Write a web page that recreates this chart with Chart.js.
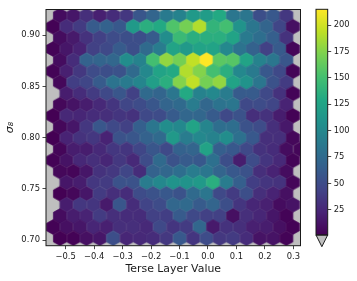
<!DOCTYPE html>
<html>
<head>
<meta charset="utf-8">
<script src="https://cdn.jsdelivr.net/npm/chart.js@4/dist/chart.umd.min.js"></script>
<style>
    html, body { margin: 0; padding: 0; background: #fff; }
    #wrap { position: relative; width: 357px; height: 281px; overflow: hidden; }
    canvas { position: absolute; top: 0; filter: blur(0.3px); }
    #hexChart { left: 0; }
    #barChart { left: 303px; }
</style>
</head>
<body>
<div id="wrap">
    <canvas id="hexChart" width="357" height="281"></canvas>
    <canvas id="barChart" width="54" height="281"></canvas>
</div>
<script>
// bin centres on the two alternating hex rows
const xLong = [-0.544, -0.497, -0.450, -0.403, -0.356, -0.310, -0.263, -0.216, -0.169, -0.122, -0.076, -0.029, 0.018, 0.065, 0.112, 0.158, 0.205, 0.252, 0.298];
const xShort = [-0.567, -0.520, -0.473, -0.427, -0.380, -0.333, -0.286, -0.239, -0.193, -0.146, -0.099, -0.052, -0.005, 0.041, 0.088, 0.135, 0.182, 0.229, 0.275, 0.324];
const yRows = [0.9190, 0.9082, 0.8973, 0.8865, 0.8756, 0.8648, 0.8539, 0.8431, 0.8322, 0.8214, 0.8105, 0.7997, 0.7888, 0.7780, 0.7671, 0.7563, 0.7454, 0.7346, 0.7237, 0.7129, 0.7020];

// counts per row, top to bottom. short rows have 20 slots, long rows 19, null = empty bin
const row01 = [null, 8, 14, 30, 20, 28, 35, 58, 70, 88, 95, 115, 118, 130, 85, 85, 52, 60, 35, null];
const row02 = [2, 28, 38, 62, 68, 60, 115, 135, 130, 155, 170, 190, 140, 150, 110, 85, 70, 45, 10];
const row03 = [null, 8, 16, 32, 42, 50, 52, 52, 62, 105, 145, 135, 135, 135, 125, 88, 78, 65, 32, null];
const row04 = [3, 14, 22, 42, 48, 62, 52, 75, 90, 125, 115, 125, 125, 100, 82, 68, 42, 62, 4];
const row05 = [null, 8, 28, 68, 70, 72, 105, 95, 150, 180, 170, 195, 215, 160, 158, 125, 95, 85, 58, null];
const row06 = [3, 20, 36, 50, 52, 55, 75, 100, 125, 130, 190, 175, 150, 135, 100, 88, 60, 48, 3];
const row07 = [null, 5, 40, 45, 62, 82, 88, 98, 120, 135, 175, 195, 170, 180, 125, 110, 85, 55, 38, null];
const row08 = [null, 18, 28, 38, 48, 58, 42, 75, 70, 85, 130, 95, 100, 90, 62, 62, 48, 32, 3];
const row09 = [null, 5, 12, 18, 26, 34, 45, 50, 58, 70, 75, 90, 72, 82, 85, 48, 50, 45, 22, null];
const row10 = [1, 25, 24, 28, 30, 34, 32, 48, 50, 62, 72, 72, 62, 48, 55, 30, 32, 18, 2];
const row11 = [null, 5, 14, 35, 58, 48, 42, 65, 85, 105, 100, 125, 98, 78, 78, 55, 50, 30, 15, null];
const row12 = [1, 22, 32, 35, 22, 55, 58, 68, 75, 115, 90, 100, 95, 105, 80, 60, 30, 30, 5];
const row13 = [null, 4, 18, 18, 26, 35, 34, 45, 58, 48, 68, 70, 125, 65, 60, 48, 32, 28, 8, 4];
const row14 = [2, 12, 25, 30, 24, 36, 26, 50, 75, 55, 62, 60, 80, 52, 18, 50, 34, 26, 3];
const row15 = [null, 5, 4, 14, 32, 36, 45, 28, 68, 72, 78, 90, 85, 70, 60, 55, 30, 22, 8, null];
const row16 = [null, 14, 18, 35, 38, 55, 55, 90, 100, 110, 110, 115, 135, 90, 65, 40, 34, 32, 4];
const row17 = [null, 1, 5, 14, 38, 30, 28, 50, 55, 60, 55, 75, 85, 48, 38, 52, 30, 22, 10, null];
const row18 = [null, 18, 35, 34, 16, 58, 28, 44, 50, 72, 75, 62, 70, 52, 34, 24, 20, 8, 12];
const row19 = [null, 8, 18, 22, 38, 30, 28, 28, 42, 40, 62, 48, 42, 42, 10, 30, 24, 14, 3, null];
const row20 = [2, 10, 14, 24, 20, 30, 30, 26, 48, 34, 38, 72, 16, 32, 30, 20, 18, 10, 2];
const row21 = [null, 1, 2, 10, 14, 52, 24, 26, 28, 36, 60, 34, 50, 36, 38, 28, 12, 12, 3, null];
const hexRows = [row01, row02, row03, row04, row05, row06, row07, row08, row09, row10, row11, row12, row13, row14, row15, row16, row17, row18, row19, row20, row21];

const xTicks = [-0.5, -0.4, -0.3, -0.2, -0.1, 0.0, 0.1, 0.2, 0.3];
const yTicks = [0.70, 0.75, 0.80, 0.85, 0.90];
const barTicks = [25, 50, 75, 100, 125, 150, 175, 200];
const countMin = 1;
const countMax = 215;

// viridis
const viridis = ['#440154', '#482475', '#414487', '#355f8d', '#2a788e', '#21918c', '#22a884', '#44bf70', '#7ad151', '#bddf26', '#fde725'];

const TEXT = '#1a1a1a';
const FONT = '"DejaVu Sans"';

function toRgb(hex) {
    return [1, 3, 5].map(i => parseInt(hex.substr(i, 2), 16));
}

function colorFor(v) {
    const t = Math.min(1, Math.max(0, (v - countMin) / (countMax - countMin))) * (viridis.length - 1);
    const i = Math.min(Math.floor(t), viridis.length - 2);
    const a = toRgb(viridis[i]);
    const b = toRgb(viridis[i + 1]);
    const c = a.map((n, j) => Math.round(n + (b[j] - n) * (t - i)));
    return 'rgb(' + c.join(',') + ')';
}

// hex marker as a canvas, cached per count
const sprites = {};
function hexSprite(v) {
    if (sprites[v]) return sprites[v];
    const cv = document.createElement('canvas');
    cv.width = 18;
    cv.height = 18;
    const c = cv.getContext('2d');
    const halfW = 6.65;
    const halfH = 7.41;
    c.translate(9, 9);
    c.beginPath();
    c.moveTo(0, -halfH);
    c.lineTo(halfW, -halfH / 2);
    c.lineTo(halfW, halfH / 2);
    c.lineTo(0, halfH);
    c.lineTo(-halfW, halfH / 2);
    c.lineTo(-halfW, -halfH / 2);
    c.closePath();
    c.fillStyle = colorFor(v);
    c.strokeStyle = colorFor(v);
    c.lineWidth = 0.6;
    c.fill();
    c.stroke();
    sprites[v] = cv;
    return cv;
}

// long and short rows alternate, first row is short
const hexPoints = [];
hexRows.forEach((row, r) => {
    const xs = row.length === 20 ? xShort : xLong;
    row.forEach((v, i) => {
        if (v !== null) hexPoints.push({ x: xs[i], y: yRows[r], v: v });
    });
});

const minusSign = v => String(v).replace('-', '\u2212');

const frame = {
    id: 'frame',
    beforeDatasetsDraw(chart) {
        const a = chart.chartArea;
        chart.ctx.save();
        chart.ctx.fillStyle = '#bfbfbf';
        chart.ctx.fillRect(a.left, a.top, a.right - a.left, a.bottom - a.top);
        chart.ctx.restore();
    },
    afterDatasetsDraw(chart) {
        const a = chart.chartArea;
        chart.ctx.save();
        chart.ctx.strokeStyle = TEXT;
        chart.ctx.lineWidth = 1;
        chart.ctx.strokeRect(a.left, a.top, a.right - a.left, a.bottom - a.top);
        chart.ctx.restore();
    }
};

new Chart(document.getElementById('hexChart'), {
    type: 'scatter',
    data: {
        datasets: [{
            data: hexPoints,
            clip: 0,
            pointRadius: 7,
            pointHoverRadius: 7,
            pointStyle: ctx => (ctx.raw ? hexSprite(ctx.raw.v) : 'circle')
        }]
    },
    plugins: [frame],
    options: {
        responsive: false,
        animation: false,
        events: [],
        layout: { padding: { top: 9.5, right: 56.5, left: 0, bottom: 0 } },
        plugins: { legend: { display: false }, tooltip: { enabled: false } },
        scales: {
            x: {
                type: 'linear',
                min: -0.569,
                max: 0.325,
                afterBuildTicks: axis => { axis.ticks = xTicks.map(v => ({ value: v })); },
                afterFit: axis => { axis.height = 35.3; axis.paddingLeft = 0; axis.paddingRight = 0; },
                grid: { drawOnChartArea: false, tickLength: 3.5, tickColor: TEXT, tickWidth: 0.8 },
                border: { display: false },
                ticks: {
                    color: TEXT,
                    padding: 2.5,
                    maxRotation: 0,
                    autoSkip: false,
                    font: { family: FONT, size: 8.4 },
                    callback: v => minusSign(v.toFixed(1))
                },
                title: { display: true, text: 'Terse Layer Value', color: TEXT, padding: { top: 3, bottom: 5 }, font: { family: FONT, size: 10.9 } }
            },
            y: {
                type: 'linear',
                min: 0.6947,
                max: 0.925,
                afterBuildTicks: axis => { axis.ticks = yTicks.map(v => ({ value: v })); },
                afterFit: axis => { axis.width = 46; axis.paddingTop = 0; axis.paddingBottom = 0; },
                grid: { drawOnChartArea: false, tickLength: 3.5, tickColor: TEXT, tickWidth: 0.8 },
                border: { display: false },
                ticks: {
                    color: TEXT,
                    padding: 2.5,
                    autoSkip: false,
                    font: { family: FONT, size: 8.4 },
                    callback: v => v.toFixed(2)
                },
                title: { display: true, text: '\u03c3\u2088', color: TEXT, padding: { top: 4, bottom: 1 }, font: { family: FONT, size: 11, style: 'italic' } }
            }
        }
    }
});

// colourbar: one floating bar over the full count range
const barFrame = {
    id: 'barFrame',
    afterDatasetsDraw(chart) {
        const a = chart.chartArea;
        const c = chart.ctx;
        c.save();
        c.strokeStyle = TEXT;
        c.lineWidth = 1;
        c.fillStyle = '#bfbfbf';
        c.beginPath();
        c.moveTo(a.left, a.bottom);
        c.lineTo((a.left + a.right) / 2, a.bottom + 11.7);
        c.lineTo(a.right, a.bottom);
        c.closePath();
        c.fill();
        c.stroke();
        c.strokeRect(a.left, a.top, a.right - a.left, a.bottom - a.top);
        c.restore();
    }
};

function barGradient(ctx) {
    const a = ctx.chart.chartArea;
    if (!a) return viridis[0];
    const g = ctx.chart.ctx.createLinearGradient(0, a.bottom, 0, a.top);
    viridis.forEach((col, i) => g.addColorStop(i / (viridis.length - 1), col));
    return g;
}

new Chart(document.getElementById('barChart'), {
    type: 'bar',
    data: {
        labels: ['counts'],
        datasets: [{
            data: [[countMin, countMax]],
            barPercentage: 1,
            categoryPercentage: 1,
            borderWidth: 0,
            backgroundColor: barGradient
        }]
    },
    plugins: [barFrame],
    options: {
        responsive: false,
        animation: false,
        events: [],
        layout: { padding: { top: 9.3, left: 13, right: 0, bottom: 46 } },
        plugins: { legend: { display: false }, tooltip: { enabled: false } },
        scales: {
            x: { display: false },
            y: {
                type: 'linear',
                position: 'right',
                min: countMin,
                max: countMax,
                afterBuildTicks: axis => { axis.ticks = barTicks.map(v => ({ value: v })); },
                afterFit: axis => { axis.width = 29.3; axis.paddingTop = 0; axis.paddingBottom = 0; },
                grid: { drawOnChartArea: false, tickLength: 3.5, tickColor: TEXT, tickWidth: 0.8 },
                border: { display: false },
                ticks: {
                    color: TEXT,
                    padding: 2.5,
                    autoSkip: false,
                    font: { family: FONT, size: 8.4 },
                    callback: v => String(v)
                }
            }
        }
    }
});
</script>
</body>
</html>
